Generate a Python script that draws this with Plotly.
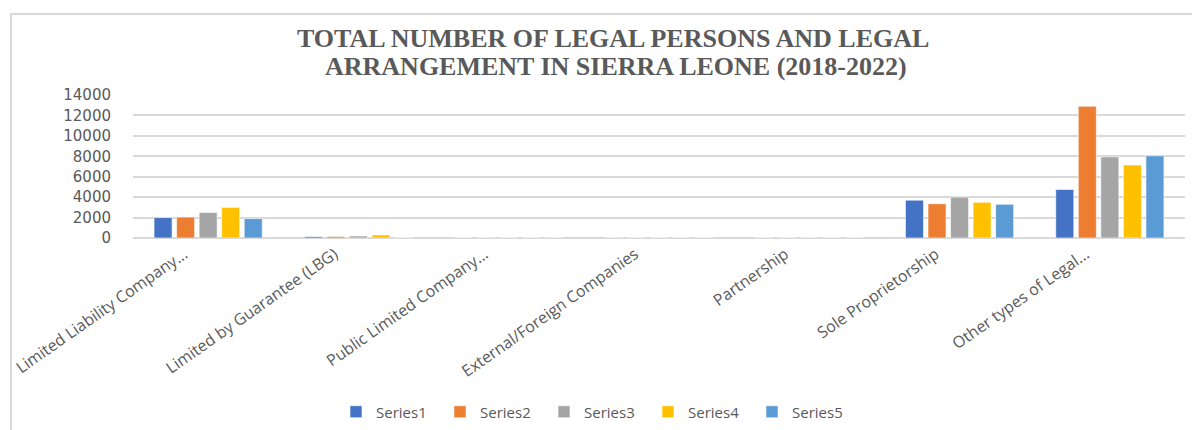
import plotly.graph_objects as go

categories = [
    "Limited Liability Company...",
    "Limited by Guarantee (LBG)",
    "Public Limited Company...",
    "External/Foreign Companies",
    "Partnership",
    "Sole Proprietorship",
    "Other types of Legal...",
]
series_names = ["Series1", "Series2", "Series3", "Series4", "Series5"]
series1 = [2000, 130, 0, 0, 0, 3700, 4750]
series2 = [2050, 150, 0, 0, 0, 3350, 12900]
series3 = [2500, 200, 0, 0, 0, 4000, 7950]
series4 = [3000, 300, 0, 0, 0, 3500, 7150]
series5 = [1900, 0, 0, 0, 0, 3300, 8050]
y_ticks = [0, 2000, 4000, 6000, 8000, 10000, 12000, 14000]
title_line1 = "TOTAL NUMBER OF LEGAL PERSONS AND LEGAL"
title_line2 = "ARRANGEMENT IN SIERRA LEONE (2018-2022)"

colors = ["#4472C4", "#ED7D31", "#A5A5A5", "#FFC000", "#5B9BD5"]
all_series = [series1, series2, series3, series4, series5]

fig = go.Figure()
for name, vals, c in zip(series_names, all_series, colors):
    fig.add_trace(go.Bar(
        name=name, x=categories, y=vals,
        marker=dict(color=c, line=dict(color="rgba(255,255,255,0.6)", width=1)),
    ))

# page body has an 8px margin, so the figure starts at (8, 8) on screen
OFF = 8
W, H = 1200, 430
left_s, right_s, top_s, bottom_s = 133, 1185, 95, 238  # plot area on screen
L = left_s - OFF
R = W - (right_s - OFF)
T = top_s - OFF
B = H - (bottom_s - OFF)
ph = H - T - B
pw = W - L - R

def py(ys):
    return (bottom_s - ys) / ph

def px(xs):
    return (xs - left_s) / pw

fig.update_layout(
    width=W, height=H,
    margin=dict(l=L, r=R, t=T, b=B, autoexpand=False),
    paper_bgcolor="white", plot_bgcolor="white",
    barmode="group", bargap=0.25, bargroupgap=0.2,
    showlegend=True,
    legend=dict(
        orientation="h", x=px(596), xanchor="center", y=py(412), yanchor="middle",
        font=dict(family="Open Sans", size=15, color="#595959"),
        entrywidth=59, entrywidthmode="pixels",
        itemwidth=30,
    ),
    font=dict(family="Open Sans", color="#595959"),
)
fig.update_xaxes(
    tickangle=-35, ticklabelshift=-24, ticklabelstandoff=3, automargin=False,
    tickfont=dict(family="Open Sans", size=16, color="#595959"),
    showgrid=False, showline=False, ticks="",
)
fig.update_yaxes(
    range=[0, 14000], tickvals=y_ticks, tickformat="d", automargin=False,
    tickfont=dict(family="DejaVu Sans", size=15, color="#595959"),
    showgrid=True, gridcolor="#D9D9D9", gridwidth=1.5,
    zeroline=True, zerolinecolor="#D9D9D9", zerolinewidth=1.5,
    showline=False, ticks="", ticklabelstandoff=21,
)
fig.add_annotation(
    text="<b>" + title_line1 + "</b>", xref="paper", yref="paper",
    x=px(613), y=py(39), xanchor="center", yanchor="middle", showarrow=False,
    font=dict(family="Liberation Serif", size=26, color="#595959"),
)
fig.add_annotation(
    text="<b>" + title_line2 + "</b>", xref="paper", yref="paper",
    x=px(616), y=py(66), xanchor="center", yanchor="middle", showarrow=False,
    font=dict(family="Liberation Serif", size=26, color="#595959"),
)
fig.add_shape(
    type="rect", xref="paper", yref="paper",
    x0=px(11), x1=px(1260), y0=py(480), y1=py(14),
    line=dict(color="#D9D9D9", width=2), fillcolor="rgba(0,0,0,0)", layer="below",
)
fig.write_html("out.html")
